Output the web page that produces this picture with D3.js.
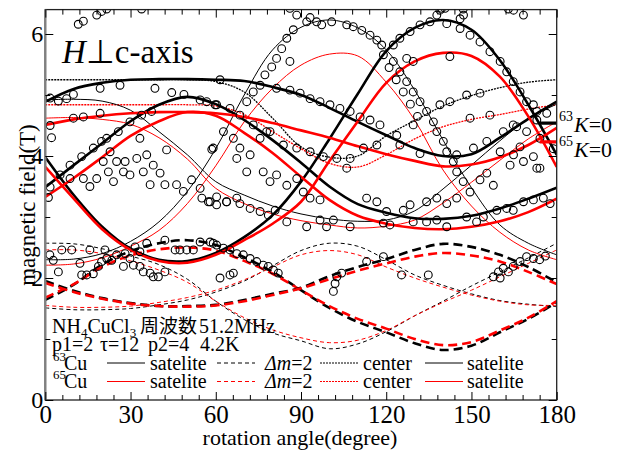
<!DOCTYPE html>
<html><head><meta charset="utf-8">
<script src="https://cdn.jsdelivr.net/npm/d3@7"></script>
<style>
body{margin:0;background:#fff;}
svg{display:block;}
</style></head><body>
<svg id="chart" width="626" height="455"></svg>
<script>
// rotation angles (degree) at which the simulated resonance fields are tabulated
const angles = [0,10,20,30,40,50,60,70,80,90,100,110,120,130,140,150,160,170,180];

// satellite lines, site group 1 (thick)
const sat63A = [3.98,3.36,2.84,2.48,2.30,2.28,2.41,2.67,3.03,3.58,4.28,5.02,5.72,6.10,6.23,6.07,5.57,4.84,4.02];
const sat65A = [3.82,3.30,2.80,2.46,2.28,2.25,2.38,2.62,2.89,3.25,3.92,4.57,5.20,5.55,5.69,5.64,5.30,4.65,3.82];
const sat63B = [4.89,5.10,5.20,5.25,5.26,5.26,5.25,5.23,5.13,5.00,4.79,4.56,4.34,4.13,4.00,4.03,4.30,4.61,4.89];
const sat65B = [4.51,4.60,4.66,4.70,4.72,4.72,4.70,4.64,4.54,4.42,4.30,4.16,4.03,3.92,3.83,3.86,3.98,4.18,4.46];
const sat63C = [3.49,3.85,4.21,4.57,4.84,4.97,4.85,4.59,4.26,3.89,3.50,3.21,3.07,2.98,2.97,3.02,3.14,3.30,3.48];
const sat65C = [3.33,3.64,3.98,4.33,4.57,4.72,4.66,4.38,4.05,3.66,3.28,3.02,2.89,2.82,2.80,2.84,2.93,3.08,3.30];
// satellite lines, site group 2 (thin)
const thin63A = [4.92,4.93,4.90,4.75,4.40,4.02,3.58,3.36,3.18,3.05,2.97,2.93,2.95,3.10,3.46,3.85,4.25,4.61,4.85];
const thin65A = [4.62,4.63,4.60,4.52,4.30,3.95,3.47,3.22,3.05,2.94,2.87,2.82,2.85,2.95,3.23,3.57,3.93,4.28,4.56];
const thin63B = [2.30,2.31,2.40,2.60,2.92,3.42,4.12,5.00,5.74,6.11,6.23,6.10,5.74,5.08,4.26,3.48,2.87,2.57,2.38];
const thin65B = [2.21,2.23,2.33,2.52,2.78,3.22,3.84,4.56,5.11,5.49,5.67,5.64,5.21,4.59,3.77,3.18,2.75,2.46,2.30];
// central transitions
const center63 = [5.25,5.25,5.25,5.25,5.25,5.25,5.22,5.05,4.62,4.15,3.98,4.00,4.33,4.58,4.82,4.99,5.12,5.21,5.25];
const center65 = [4.84,4.84,4.84,4.84,4.84,4.84,4.82,4.68,4.40,4.12,3.88,3.82,4.02,4.28,4.48,4.60,4.68,4.77,4.84];
// Δm=2 transitions
const dm63A = [1.64,1.89,2.22,2.44,2.57,2.62,2.54,2.34,2.10,1.80,1.51,1.28,1.11,0.93,0.82,0.89,1.11,1.33,1.60];
const dm65A = [1.68,1.90,2.18,2.37,2.47,2.50,2.45,2.28,2.07,1.80,1.54,1.33,1.17,1.00,0.90,0.95,1.14,1.35,1.62];
const dm63B = [1.95,1.79,1.67,1.59,1.54,1.54,1.56,1.64,1.74,1.84,2.03,2.18,2.31,2.46,2.56,2.51,2.38,2.18,1.93];
const dm65B = [1.92,1.77,1.66,1.58,1.54,1.53,1.55,1.62,1.72,1.83,1.98,2.12,2.24,2.35,2.41,2.37,2.27,2.10,1.90];
const dmThin63A = [1.51,1.48,1.48,1.50,1.56,1.64,1.77,1.95,2.20,2.45,2.57,2.52,2.30,2.05,1.88,1.74,1.63,1.57,1.53];
const dmThin65A = [1.55,1.52,1.52,1.54,1.60,1.68,1.80,1.97,2.18,2.38,2.45,2.38,2.18,2.00,1.85,1.72,1.62,1.56,1.55];
const dmThin63B = [2.57,2.56,2.48,2.36,2.22,1.98,1.62,1.32,1.10,0.97,0.84,0.92,1.12,1.38,1.62,1.87,2.10,2.33,2.57];
const dmThin65B = [2.46,2.46,2.40,2.28,2.13,1.93,1.62,1.35,1.15,1.02,0.94,0.98,1.14,1.38,1.60,1.80,2.02,2.24,2.46];

// K=0 reference fields (T) for each isotope
const kZeroIsotopes = ["63","65"];
const kZeroFields = [4.54, 4.23];

// observed resonance fields [angle (degree), field (T)]
const measured = [
 [11.6,6.16],[13.4,6.21],[18.1,6.31],[19.8,6.37],[21.6,6.41],[33.9,6.41],[86.1,6.42],[88.5,6.31],[92.0,6.20],[93.2,6.27],
 [138.9,6.39],[140.7,6.42],[147.1,6.41],[146.0,6.25],[163.0,6.41],[164.8,6.39],[168.3,6.31],[137.8,6.31],[139.5,6.42],[147.2,6.31],
 [1.7,4.95],[4.6,4.90],[7.5,4.94],[9.9,5.01],[19.3,5.11],[26.3,5.16],[38.6,5.11],[44.5,5.04],[48.8,5.01],[54.5,4.92],[56.8,4.89],[59.8,4.84],
 [9.9,4.62],[13.4,4.64],[19.3,4.70],[2.2,4.30],[1.1,3.32],[1.7,3.49],[1.7,4.50],
 [19.8,4.24],[22.8,4.07],[25.1,3.91],[28.1,3.91],[32.2,3.96],[33.3,4.29],[35.7,4.02],[38.0,3.85],[40.4,3.72],[42.1,3.53],
 [42.7,4.10],[46.2,3.53],[48.6,3.42],[51.5,3.61],[54.5,3.47],[58.6,4.11],[60.3,3.33],[8.7,3.63],[13.4,3.63],
 [15.7,3.50],[18.1,3.63],[20.4,3.91],[22.2,3.74],[24.0,3.58],[27.5,3.74],[29.8,3.69],[34.5,3.74],[36.9,3.53],
 [5.2,3.69],[8.7,3.85],[12.8,3.99],[16.9,4.13],[21.6,4.29],[25.7,4.40],[29.8,4.56],[33.9,4.67],[37.4,4.73],
 [95.5,6.20],[97.3,6.15],[100.8,6.20],[106.1,6.15],[108.4,6.12],[111.4,6.06],[114.3,5.98],[116.7,5.90],[118.4,5.82],
 [87.3,6.07],[85.0,5.93],[83.2,5.76],[81.4,5.60],[79.7,5.46],[77.3,5.33],[75.6,5.16],[73.2,5.05],[70.9,4.89],[86.1,5.55],
 [61.5,5.25],[81.4,5.11],[86.1,5.08],[89.7,5.03],[93.2,4.94],[96.7,4.89],[100.2,4.84],[103.7,4.78],[107.3,4.73],[110.8,4.64],[114.3,4.59],[117.8,4.51],
 [88.5,4.13],[93.2,4.07],[97.9,3.99],[102.6,3.96],[107.3,3.96],[112.0,4.13],[116.7,4.18],[106.1,3.80],
 [59.1,4.13],[62.7,4.40],[66.2,4.29],[68.5,4.13],[67.4,3.96],[72.1,4.02],[75.6,4.29],[79.1,4.40],[70.9,3.74],[76.7,3.74],
 [79.1,3.58],[81.4,3.69],[85.0,3.52],[88.5,3.63],[90.8,3.41],[63.8,3.25],[67.4,3.31],
 [60.3,4.84],[65.0,4.78],[68.5,4.67],[73.2,4.51],[77.9,4.40],[83.8,4.18],
 [122.5,5.82],[124.8,5.93],[128.4,6.04],[131.9,6.15],[135.4,6.20],[141.3,6.17],[146.0,6.09],[149.5,5.98],[153.0,5.87],
 [156.5,5.71],[160.1,5.55],[162.4,5.38],[164.7,5.22],[167.1,5.05],[169.4,4.89],[127.2,5.60],[129.5,5.55],[142.4,5.63],
 [122.5,5.55],[124.8,5.38],[127.2,5.22],[129.5,5.05],[131.9,4.89],[134.2,4.73],[136.6,4.56],[137.8,4.40],[140.1,4.24],
 [141.3,4.07],[143.6,3.91],[144.8,3.74],[147.1,3.58],[149.5,3.41],[119.0,5.66],[121.0,5.45],[123.5,5.25],[126.0,5.05],[128.5,4.85],[131.0,4.65],
 [123.7,4.34],[129.5,4.51],[138.9,4.84],[142.4,4.89],[148.3,5.00],[153.0,5.03],[149.5,4.62],[156.5,4.67],
 [124.8,4.18],[131.9,4.04],[144.8,4.02],[150.7,4.13],[155.4,4.24],[161.2,4.40],[164.7,4.51],[173.0,4.73],
 [171.8,4.84],[173.0,4.59],[169.4,4.40],[174.1,4.29],[178.8,4.12],[168.3,3.91],[174.1,3.80],[163.6,3.85],[157.7,3.52],
 [176.5,4.70],[165.9,4.48],[167.1,4.15],[164.8,4.02],[171.8,3.99],[173.0,3.80],[160.1,4.07],[155.4,3.72],[153.0,3.61],
 [55.1,3.31],[57.4,3.25],[1.6,2.38],[2.8,2.29],[4.6,2.10],[5.8,2.46],[9.3,2.46],[15.7,2.46],[21.0,2.46],[12.2,2.24],
 [12.8,2.05],[14.6,2.05],[16.9,2.07],[18.7,2.19],[19.8,2.27],[21.6,2.32],[23.4,2.29],[25.1,2.38],[27.5,2.19],[28.1,2.40],
 [29.8,2.32],[31.0,2.21],[31.6,2.51],[33.3,2.43],[33.3,2.19],[35.7,2.57],[34.5,2.10],[36.9,2.08],[38.0,2.02],[39.8,2.02],
 [42.1,2.10],[42.1,2.62],[45.7,2.46],[47.4,2.46],[49.8,2.46],[52.1,2.46],[54.5,2.59],[58.0,2.59],[60.3,2.54],
 [58.0,3.25],[60.3,3.20],[63.8,3.25],[68.5,3.22],[72.1,3.14],[75.6,3.09],[78.5,3.03],[80.9,3.11],[85.0,2.92],[93.2,3.31],
 [96.7,3.28],[92.0,2.84],[96.7,2.95],[99.0,2.84],[101.4,2.95],[107.3,2.84],[119.0,2.90],[113.1,3.31],[116.7,3.25],
 [59.1,2.57],[62.7,2.49],[65.0,2.46],[67.4,2.40],[69.7,2.38],[72.1,2.32],[74.4,2.27],[76.7,2.21],[78.5,2.19],[80.3,2.13],
 [82.0,2.08],[65.0,2.05],[66.2,2.08],[61.5,2.00],[102.6,2.02],[104.3,2.08],[102.0,1.91],[101.4,1.78],[113.1,2.27],[119.0,2.35],
 [120.1,3.09],[126.0,3.11],[128.4,3.20],[134.2,3.25],[137.8,3.31],[141.3,3.22],[144.8,3.31],[121.3,2.87],[129.5,2.92],
 [134.2,2.92],[137.8,2.95],[141.3,2.84],[148.3,3.00],[151.8,2.92],[154.2,3.00],[158.9,3.11],[162.4,3.14],[164.7,3.11],
 [168.3,3.25],[171.8,3.28],[175.3,3.31],[177.7,3.22],[125.4,2.05],[134.8,2.05],[157.7,2.02],[159.5,2.10],[161.2,2.16],
 [163.0,2.10],[164.7,2.19],[167.1,2.27],[169.4,2.35],[171.8,2.32],[160.1,2.00],[174.0,2.30],[176.0,2.36]
];

// axis ticks
const xMajorTicks = [0,30,60,90,120,150,180];
const xMinorTicks = d3.range(0,181,6).filter(v => v % 30 !== 0);
const yMajorTicks = [0,2,4,6];
const yMinorTicks = [1,3,5];

const RED = "#ff0000", BLACK = "#000000";
const SERIF = "'Liberation Serif', 'Times New Roman', serif";
const CJK = "'Noto Sans CJK JP', 'Noto Sans CJK SC', sans-serif";
const STYLE = {
  thick:   {w:2.6, dash:null},
  thin:    {w:1.0, dash:null},
  center:  {w:1.3, dash:"2,1"},
  dmThick: {w:2.6, dash:"9,5"},
  dmThin:  {w:1.0, dash:"4,3"}
};
const curves = [
  {v:dmThin63A, c:BLACK, s:"dmThin"}, {v:dmThin65A, c:RED, s:"dmThin"},
  {v:dmThin63B, c:BLACK, s:"dmThin"}, {v:dmThin65B, c:RED, s:"dmThin"},
  {v:dm63A, c:BLACK, s:"dmThick"}, {v:dm65A, c:RED, s:"dmThick"},
  {v:dm63B, c:BLACK, s:"dmThick"}, {v:dm65B, c:RED, s:"dmThick"},
  {v:center63, c:BLACK, s:"center"}, {v:center65, c:RED, s:"center"},
  {v:thin63A, c:BLACK, s:"thin"}, {v:thin65A, c:RED, s:"thin"},
  {v:thin63B, c:BLACK, s:"thin"}, {v:thin65B, c:RED, s:"thin"},
  {v:sat63A, c:BLACK, s:"thick"}, {v:sat63B, c:BLACK, s:"thick"}, {v:sat63C, c:BLACK, s:"thick"},
  {v:sat65A, c:RED, s:"thick"}, {v:sat65B, c:RED, s:"thick"}, {v:sat65C, c:RED, s:"thick"}
];

const svg = d3.select("#chart");
const x = d3.scaleLinear().domain([0,180]).range([45.3,556.7]);
const y = d3.scaleLinear().domain([0,6.4]).range([400,9.6]);

svg.append("defs").append("clipPath").attr("id","plot")
  .append("rect").attr("x",x(0)).attr("y",y(6.4)).attr("width",x(180)-x(0)).attr("height",y(0)-y(6.4));

const plot = svg.append("g").attr("clip-path","url(#plot)");
const line = d3.line().x((d,i)=>x(angles[i])).y(d=>y(d)).curve(d3.curveCatmullRom.alpha(0.5));

plot.selectAll("path.curve").data(curves).join("path")
  .attr("class","curve")
  .attr("d", d => line(d.v))
  .attr("fill","none")
  .attr("stroke", d => d.c)
  .attr("stroke-width", d => STYLE[d.s].w)
  .attr("stroke-dasharray", d => STYLE[d.s].dash);

plot.selectAll("circle.obs").data(measured).join("circle")
  .attr("class","obs")
  .attr("cx", d => x(d[0])).attr("cy", d => y(d[1])).attr("r", 3.9)
  .attr("fill","none").attr("stroke","#000").attr("stroke-width",1.1);

// K=0 markers at the right edge
plot.selectAll("line.k0").data(kZeroFields).join("line")
  .attr("class","k0")
  .attr("x1", x(174)).attr("x2", x(180))
  .attr("y1", d => y(d)).attr("y2", d => y(d))
  .attr("stroke", (d,i) => i === 0 ? BLACK : RED).attr("stroke-width",3.2);

// frame
svg.append("rect").attr("x",x(0)).attr("y",y(6.4)).attr("width",x(180)-x(0)).attr("height",y(0)-y(6.4))
  .attr("fill","none").attr("stroke","#222").attr("stroke-width",1.3);
svg.append("line").attr("x1",x(0)).attr("x2",x(0)).attr("y1",y(0)).attr("y2",y(6.4))
  .attr("stroke","#808080").attr("stroke-width",2.4);

function styleAxis(g){
  g.select(".domain").remove();
  g.selectAll("line").attr("stroke","#000").attr("stroke-width",1);
}

svg.append("g").attr("transform",`translate(0,${y(0)})`)
  .call(d3.axisBottom(x).tickValues(xMajorTicks).tickSize(-8).tickPadding(5).tickFormat(d3.format("d")))
  .call(styleAxis)
  .selectAll("text").attr("font-size",25).attr("fill","#000");
svg.append("g").attr("transform",`translate(0,${y(0)})`)
  .call(d3.axisBottom(x).tickValues(xMinorTicks).tickSize(-5).tickFormat("")).call(styleAxis);
svg.append("g").attr("transform",`translate(0,${y(6.4)})`)
  .call(d3.axisTop(x).tickValues(xMajorTicks).tickSize(-8).tickFormat("")).call(styleAxis);
svg.append("g").attr("transform",`translate(0,${y(6.4)})`)
  .call(d3.axisTop(x).tickValues(xMinorTicks).tickSize(-5).tickFormat("")).call(styleAxis);

svg.append("g").attr("transform",`translate(${x(0)},0)`)
  .call(d3.axisLeft(y).tickValues(yMajorTicks).tickSize(-8).tickPadding(2).tickFormat(d3.format("d")))
  .call(styleAxis)
  .selectAll("text").attr("font-size",24).attr("fill","#000");
svg.append("g").attr("transform",`translate(${x(0)},0)`)
  .call(d3.axisLeft(y).tickValues(yMinorTicks).tickSize(-5).tickFormat("")).call(styleAxis);
svg.append("g").attr("transform",`translate(${x(180)},0)`)
  .call(d3.axisRight(y).tickValues(yMajorTicks).tickSize(-8).tickFormat("")).call(styleAxis);
svg.append("g").attr("transform",`translate(${x(180)},0)`)
  .call(d3.axisRight(y).tickValues(yMinorTicks).tickSize(-5).tickFormat("")).call(styleAxis);

// axis titles
svg.append("text").attr("x",300).attr("y",445).attr("text-anchor","middle").attr("font-size",22)
  .text("rotation angle(degree)");
svg.append("text").attr("transform","translate(35,205) rotate(-90)").attr("text-anchor","middle").attr("font-size",23)
  .text("magnetic field(T)");

// panel title
const ttl = svg.append("text").attr("x",62).attr("y",63).attr("font-size",33);
ttl.append("tspan").attr("font-style","italic").text("H");
ttl.append("tspan").text("⊥c-axis");

// right-hand K=0 labels
const kLabelBase = [132,157];
kZeroIsotopes.forEach((iso,i) => {
  svg.append("text").attr("x",559).attr("y",kLabelBase[i]-11).attr("font-size",14).text(iso);
  const t = svg.append("text").attr("x",574).attr("y",kLabelBase[i]).attr("font-size",22);
  t.append("tspan").attr("font-style","italic").text("K");
  t.append("tspan").text("=0");
});

// legend / sample description
const leg = svg.append("g").attr("font-size",20);
const l1 = leg.append("text").attr("x",52).attr("y",333);
l1.append("tspan").text("NH");
l1.append("tspan").attr("font-size",13).attr("dy",4).text("4");
l1.append("tspan").attr("dy",-4).text("CuCl");
l1.append("tspan").attr("font-size",13).attr("dy",4).text("3");
leg.append("text").attr("class","cjk").attr("x",140).attr("y",333).attr("font-size",19).text("周波数");
leg.append("text").attr("x",199).attr("y",333).text("51.2MHz");

const paramText = ["p1=2","τ=12","p2=4","4.2K"];
const paramX = [52,100,148,200];
paramText.forEach((t,i) => leg.append("text").attr("x",paramX[i]).attr("y",351).text(t));

const legendRows = [{iso:"63", c:BLACK, base:370, ly:363}, {iso:"65", c:RED, base:388, ly:381.5}];
legendRows.forEach(r => {
  leg.append("text").attr("x",53).attr("y",r.base-9).attr("font-size",13).text(r.iso);
  leg.append("text").attr("x",64).attr("y",r.base).text("Cu");
  const seg = (x1,x2,dash) => leg.append("line").attr("x1",x1).attr("x2",x2).attr("y1",r.ly).attr("y2",r.ly)
      .attr("stroke",r.c).attr("stroke-width",1).attr("stroke-dasharray",dash);
  seg(107,145,null);
  leg.append("text").attr("x",150).attr("y",r.base).text("satelite");
  seg(217,255,"4,3");
  const dm = leg.append("text").attr("x",265).attr("y",r.base);
  dm.append("tspan").attr("font-style","italic").text("Δm");
  dm.append("tspan").text("=2");
  seg(320,358,"2,1");
  leg.append("text").attr("x",363).attr("y",r.base).text("center");
  seg(425,463,null);
  leg.append("text").attr("x",467).attr("y",r.base).text("satelite");
});

// typefaces: serif everywhere, CJK face for the Japanese label
svg.selectAll("text").style("font-family", SERIF);
svg.selectAll("text.cjk").style("font-family", CJK);
</script>
</body></html>
